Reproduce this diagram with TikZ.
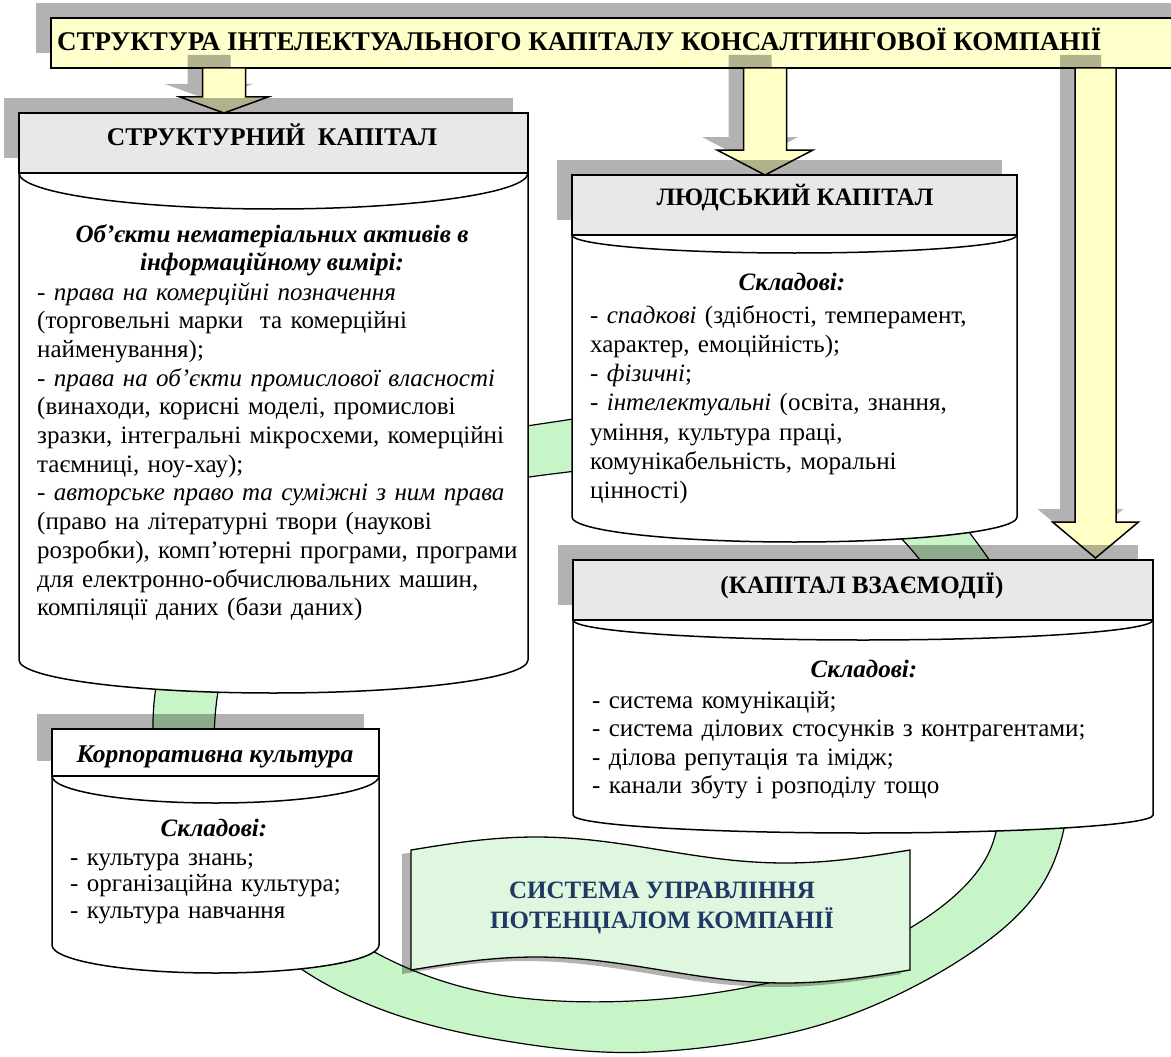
\documentclass[tikz,border=0pt]{standalone}
\usepackage{fontspec}
\setmainfont{Liberation Serif}
\definecolor{ttl}{HTML}{FFFFCC}
\definecolor{arrc}{HTML}{FFFFC6}
\definecolor{hdr}{HTML}{E8E8E8}
\definecolor{ringc}{HTML}{C8F5C8}
\definecolor{bannc}{HTML}{DFF7DF}
\definecolor{navy}{HTML}{1F3864}
\tikzset{
  shd/.style={fill=black, fill opacity=0.3, draw=none},
  box/.style={draw=black, line width=1.5pt},
  hb/.style={font=\fontsize{25}{28}\selectfont\bfseries, inner sep=0, anchor=base},
  hbi/.style={font=\fontsize{25}{28}\selectfont\bfseries\itshape, inner sep=0, anchor=base},
  body/.style={inner sep=0, align=left, anchor=base west},
}
\begin{document}
\begin{tikzpicture}[x=1pt,y=-1pt]
\useasboundingbox (0,0) rectangle (1171,1057);
\fill[white] (0,0) rectangle (1171,1057);
\begin{scope}
\clip (0,0) rectangle (1171,1057);
% title banner
\fill[shd] (36,3) rectangle (1185,53);
\draw[box, fill=ttl] (51,18) rectangle (1185,68);
\node[hb, anchor=base west, font=\fontsize{27}{30}\selectfont\bfseries] (title) at (57,51) {СТРУКТУРА ІНТЕЛЕКТУАЛЬНОГО КАПІТАЛУ КОНСАЛТИНГОВОЇ КОМПАНІЇ};

% green ring
\path[draw=black, line width=1.2pt, fill=ringc, even odd rule]
  plot[smooth cycle, tension=0.6] coordinates {(153,740) (180,620) (300,500) (440,445) (560,421) (740,400) (880,440) (975,540) (1045,660) (1070,770) (1045,880) (960,960) (820,1025) (650,1052) (500,1040) (370,1005) (270,945) (185,845)}
  plot[smooth cycle, tension=0.6] coordinates {(214,750) (235,640) (330,545) (450,495) (560,473) (740,460) (860,505) (935,580) (985,680) (1000,780) (985,860) (915,925) (800,975) (650,1000) (500,995) (380,955) (290,885) (235,820)};

% arrows
\begin{scope}[shift={(-15,-13)}]
\fill[shd] (202.5,68) -- (245.5,68) -- (245.5,97) -- (268,97) -- (224,113) -- (180,97) -- (202.5,97) -- cycle;
\fill[shd] (743.5,68) -- (786.5,68) -- (786.5,150) -- (813,150) -- (765,175) -- (717,150) -- (743.5,150) -- cycle;
\fill[shd] (1075,68) -- (1116,68) -- (1116,522) -- (1138.5,522) -- (1095.5,558) -- (1052.5,522) -- (1075,522) -- cycle;
\end{scope}
\draw[box, fill=arrc] (202.5,68) -- (245.5,68) -- (245.5,97) -- (268,97) -- (224,113) -- (180,97) -- (202.5,97) -- cycle;
\draw[box, fill=arrc] (743.5,68) -- (786.5,68) -- (786.5,150) -- (813,150) -- (765,175) -- (717,150) -- (743.5,150) -- cycle;
\draw[box, fill=arrc] (1075,68) -- (1116,68) -- (1116,522) -- (1138.5,522) -- (1095.5,558) -- (1052.5,522) -- (1075,522) -- cycle;

% header shadows
\fill[shd] (4,98) rectangle (513,158);
\fill[shd] (557,160) rectangle (1002,220);
\fill[shd] (558,545) rectangle (1138,605);
\fill[shd] (37,714) rectangle (364,761);

% structural cylinder
\draw[box, fill=white] (19,173) -- (19,660) arc[start angle=180, end angle=0, x radius=254.5, y radius=33] -- (528,173);
\draw[box] (19,173) arc[start angle=180, end angle=0, x radius=254.5, y radius=36];
\draw[box, fill=hdr] (19,113) rectangle (528,173);
% human cylinder
\draw[box, fill=white] (572,235) -- (572,517) arc[start angle=180, end angle=0, x radius=222.5, y radius=25] -- (1017,235);
\draw[box] (572,235) arc[start angle=180, end angle=0, x radius=222.5, y radius=18];
\draw[box, fill=hdr] (572,175) rectangle (1017,235);
% interaction cylinder
\draw[box, fill=white] (573,620) -- (573,815) arc[start angle=180, end angle=0, x radius=290, y radius=18] -- (1153,620);
\draw[box] (573,620) arc[start angle=180, end angle=0, x radius=290, y radius=20];
\draw[box, fill=hdr] (573,560) rectangle (1153,620);
% corporate culture cylinder
\draw[box, fill=white] (52,776) -- (52,945) arc[start angle=180, end angle=0, x radius=163.5, y radius=28] -- (379,776);
\draw[box] (52,776) arc[start angle=180, end angle=0, x radius=163.5, y radius=27];
\draw[box, fill=white] (52,729) rectangle (379,776);

% headers text
\node[hb, font=\fontsize{25.5}{28}\selectfont\bfseries] (sk) at (272,146) {СТРУКТУРНИЙ~~КАПІТАЛ};
\node[hb] (lk) at (795,205) {ЛЮДСЬКИЙ КАПІТАЛ};
\node[hb] (kv) at (862,593) {(КАПІТАЛ ВЗАЄМОДІЇ)};
\node[hbi, font=\fontsize{25.5}{28}\selectfont\bfseries\itshape] (kk) at (215,762) {Корпоративна культура};

% structural text
\node[hbi] (ob1) at (272,242) {Об’єкти нематеріальних активів в};
\node[hbi] (ob2) at (272,270) {інформаційному вимірі:};
\node[body, text width=490, font=\fontsize{25}{28.7}\selectfont] (sbody) at (37,300) {\textit{- права на комерційні позначення}\\
(торговельні марки~ та комерційні\\
найменування);\\
\textit{- права на об’єкти промислової власності}\\
(винаходи, корисні моделі, промислові\\
зразки, інтегральні мікросхеми, комерційні\\
таємниці, ноу-хау);\\
\textit{- авторське право та суміжні з ним права}\\
(право на літературні твори (наукові\\
розробки), комп'ютерні програми, програми\\
для електронно-обчислювальних машин,\\
компіляції даних (бази даних)};

% human text
\node[hbi] (hs) at (792,290) {Складові:};
\node[body, text width=420, font=\fontsize{25}{29.3}\selectfont] (hbody) at (590,323) {- \textit{спадкові} (здібності, темперамент,\\
характер, емоційність);\\
- \textit{фізичні};\\
- \textit{інтелектуальні} (освіта, знання,\\
уміння, культура праці,\\
комунікабельність, моральні\\
цінності)};

% interaction text
\node[hbi] (is) at (864,677) {Складові:};
\node[body, text width=550, font=\fontsize{25}{28.5}\selectfont] (ibody) at (592,708) {- система комунікацій;\\
- система ділових стосунків з контрагентами;\\
- ділова репутація та імідж;\\
- канали збуту і розподілу тощо};

% corporate text
\node[hbi] (cs) at (214,836) {Складові:};
\node[body, text width=300, font=\fontsize{25}{26.5}\selectfont] (cbody) at (70,865) {- культура знань;\\
- організаційна культура;\\
- культура навчання};

% management system banner
\path[shd, shift={(-9,4)}] plot[domain=411:910, samples=60] (\x,{850-13*sin(0.72144*(\x-411))}) -- plot[domain=910:411, samples=60] (\x,{970-13*sin(0.72144*(\x-411))}) -- cycle;
\path[draw=black, line width=1.3pt, fill=bannc] plot[domain=411:910, samples=60] (\x,{850-13*sin(0.72144*(\x-411))}) -- plot[domain=910:411, samples=60] (\x,{970-13*sin(0.72144*(\x-411))}) -- cycle;
\node[hb, text=navy] (su1) at (662,898) {СИСТЕМА УПРАВЛІННЯ};
\node[hb, text=navy] (su2) at (662,928) {ПОТЕНЦІАЛОМ КОМПАНІЇ};
\end{scope}
\end{tikzpicture}
\end{document}
